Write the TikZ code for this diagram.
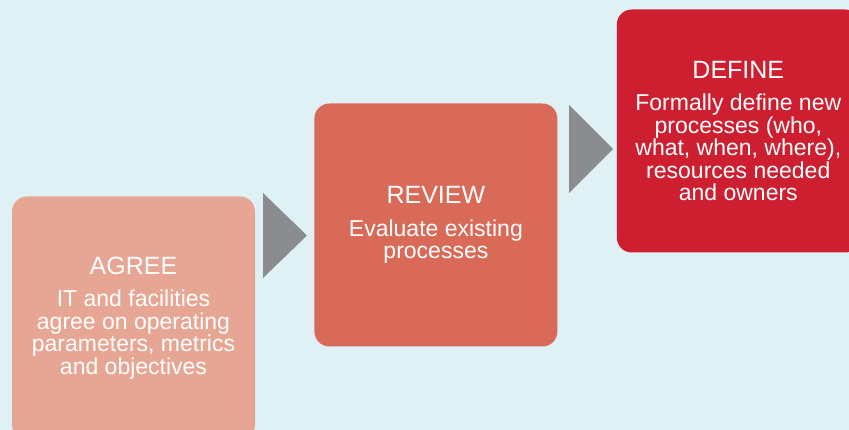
\documentclass[tikz,border=0pt]{standalone}
\usepackage{fontspec}
\setmainfont{Liberation Sans}
\usepackage{xcolor}
\usepackage{tikz}
\usetikzlibrary{positioning}
\definecolor{bgblue}{HTML}{E0F1F6}
\definecolor{agreecol}{HTML}{E7A693}
\definecolor{reviewcol}{HTML}{DA6A58}
\definecolor{definecol}{HTML}{CD1F2F}
\definecolor{chevgray}{HTML}{8B8C8F}
\newcommand{\stagetitle}[1]{{\fontsize{25}{30}\selectfont #1}}

\begin{document}
\begin{tikzpicture}[x=1pt, y=-1pt,
  stage/.style={rounded corners=15pt, minimum width=243pt, minimum height=243pt,
    inner sep=0pt, text=white, align=center, font=\fontsize{23}{22.4}\selectfont},
  chevron/.style={fill=chevgray}]
  % Background
  \fill[bgblue] (0,0) rectangle (849,430);
  \useasboundingbox (0,0) rectangle (849,430);
  \clip (0,0) rectangle (849,430);

  % Stages
  \node[stage, fill=agreecol] (agree) at (133.5,318)
    {\stagetitle{AGREE}\\[10pt]IT and facilities\\agree on operating\\parameters, metrics\\and objectives};
  \node[stage, fill=reviewcol, right=59pt of agree, yshift=93pt] (review)
    {\stagetitle{REVIEW}\\[10pt]Evaluate existing\\processes};
  \node[stage, fill=definecol, right=59pt of review, yshift=94pt] (define)
    {\stagetitle{DEFINE}\\[10pt]Formally define new\\processes (who,\\what, when, where),\\resources needed\\and owners};

  % Chevrons
  \fill[chevron] (263,193) -- (307,235.5) -- (263,278) -- cycle;
  \fill[chevron] (569,105) -- (613,149) -- (569,193) -- cycle;
\end{tikzpicture}
\end{document}
